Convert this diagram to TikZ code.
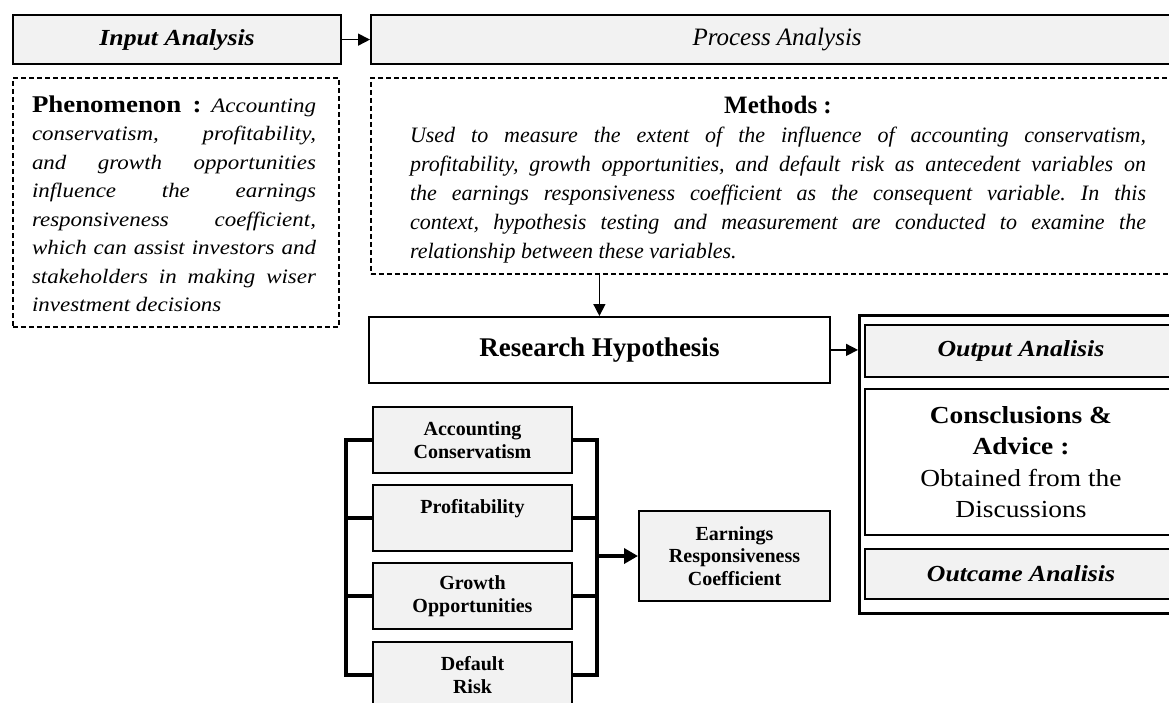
\documentclass[tikz,border=0pt]{standalone}
\usepackage{fontspec}
\setmainfont{Liberation Serif}
\newfontfamily\cam[FakeStretch=1.12]{Liberation Serif}
\usetikzlibrary{arrows.meta}
\definecolor{boxgray}{HTML}{F2F2F2}
\newcommand\jl[1]{\makebox[\linewidth][s]{#1}}
\frenchspacing
\begin{document}
\begin{tikzpicture}[x=1pt,y=-1pt,
  hdrbox/.style={draw=black, line width=2.2pt, fill=boxgray, anchor=north west, inner sep=0pt, minimum height=49pt},
  dashbox/.style={draw=black, line width=1.7pt, dash pattern=on 5pt off 3pt, anchor=north west, inner sep=0pt},
  varbox/.style={draw=black, line width=2pt, fill=boxgray, anchor=north west, inner sep=0pt, minimum width=199pt, minimum height=66pt, align=center, font=\fontsize{20}{23}\selectfont\bfseries},
  outinner/.style={draw=black, line width=2pt, anchor=north west, inner sep=0pt, minimum width=312pt, align=center},
  thinarr/.style={line width=1.5pt, -{Triangle[length=12pt,width=12pt]}},
  brk/.style={line width=3.6pt},
  textblock/.style={anchor=base west, inner sep=0pt, outer sep=0pt}
]
\useasboundingbox (0,0) rectangle (1169,702);
\clip (0,0) rectangle (1169,702);

% top header boxes
\node[hdrbox, minimum width=328pt] (input) at (12,14)
  {\cam\fontsize{23}{26}\selectfont\bfseries\itshape Input Analysis};
\node[hdrbox, minimum width=812pt] (process) at (370,14)
  {\fontsize{25}{28}\selectfont\itshape Process Analysis};

% phenomenon box
\node[dashbox, minimum width=326pt, minimum height=249pt] (phenbox) at (12,77) {};
\begin{scope}
\clip (14,79) rectangle (336,317);
\node[textblock] (phentext) at (32,112) {\parbox[t]{284pt}{\cam\fontsize{20.5}{28.5}\selectfont\itshape
\jl{{\fontsize{24}{28.5}\selectfont\bfseries\upshape Phenomenon :} Accounting}\\
\jl{conservatism, profitability,}\\
\jl{and growth opportunities}\\
\jl{influence the earnings}\\
\jl{responsiveness coefficient,}\\
\jl{which can assist investors and}\\
\jl{stakeholders in making wiser}\\
investment decisions}};
\end{scope}

% methods box
\node[dashbox, minimum width=812pt, minimum height=196pt] (methods) at (370,77) {};
\node[textblock] (methtext) at (410,113) {\parbox[t]{736pt}{\fontsize{22}{29}\selectfont
\makebox[\linewidth]{\fontsize{25}{29}\selectfont\bfseries Methods :}\\
\itshape
\jl{Used to measure the extent of the influence of accounting conservatism,}\\
\jl{profitability, growth opportunities, and default risk as antecedent variables on}\\
\jl{the earnings responsiveness coefficient as the consequent variable. In this}\\
\jl{context, hypothesis testing and measurement are conducted to examine the}\\
relationship between these variables.}};

% research hypothesis
\node[draw=black, line width=1.8pt, anchor=north west, minimum width=461pt, minimum height=66pt, inner sep=0pt] (rh) at (368,316)
  {\fontsize{27}{30}\selectfont\bfseries Research Hypothesis};

% output column
\node[draw=black, line width=2.8pt, anchor=north west, minimum width=324pt, minimum height=298pt, inner sep=0pt] (outbox) at (858,314) {};
\node[outinner, fill=boxgray, minimum height=52pt] (outan) at (864,324)
  {\cam\fontsize{23}{26}\selectfont\bfseries\itshape Output Analisis};
\node[outinner, fill=white, minimum height=146pt, font=\cam\fontsize{24.5}{31.5}\selectfont] (concl) at (864,388)
  {\textbf{Consclusions \&}\\ \textbf{Advice :}\\ Obtained from the\\ Discussions};
\node[outinner, fill=boxgray, minimum height=50pt] (outcame) at (864,548)
  {\cam\fontsize{23}{26}\selectfont\bfseries\itshape Outcame Analisis};

% variable boxes
\node[varbox] (acc) at (372,406) {Accounting\\Conservatism};
\node[varbox] (prof) at (372,484) {Profitability\\\mbox{}};
\node[varbox] (gro) at (372,562) {Growth\\Opportunities};
\node[varbox] (def) at (372,641) {Default\\Risk};
\node[varbox, minimum width=191pt, minimum height=90pt, font=\fontsize{20}{22.5}\selectfont\bfseries] (erc) at (638,510)
  {Earnings\\Responsiveness\\Coefficient};

% connectors
\draw[thinarr] (input.east) -- (process.west);
\draw[thinarr] (methods.south -| rh.north) -- (rh.north);
\draw[thinarr] (rh.east) -- (rh.east -| outbox.west);

\draw[brk] (acc.west) -- ++(-26,0) |- (def.west);
\draw[brk] (prof.west) -- ++(-26,0);
\draw[brk] (gro.west) -- ++(-26,0);
\draw[brk] (acc.east) -- ++(24,0) |- (def.east);
\draw[brk] (prof.east) -- ++(24,0);
\draw[brk] (gro.east) -- ++(24,0);
\coordinate (rbr) at ([xshift=24pt]acc.east);
\draw[brk, -{Triangle[length=14pt,width=15pt]}] (rbr |- erc.west) -- (erc.west);
\end{tikzpicture}
\end{document}
